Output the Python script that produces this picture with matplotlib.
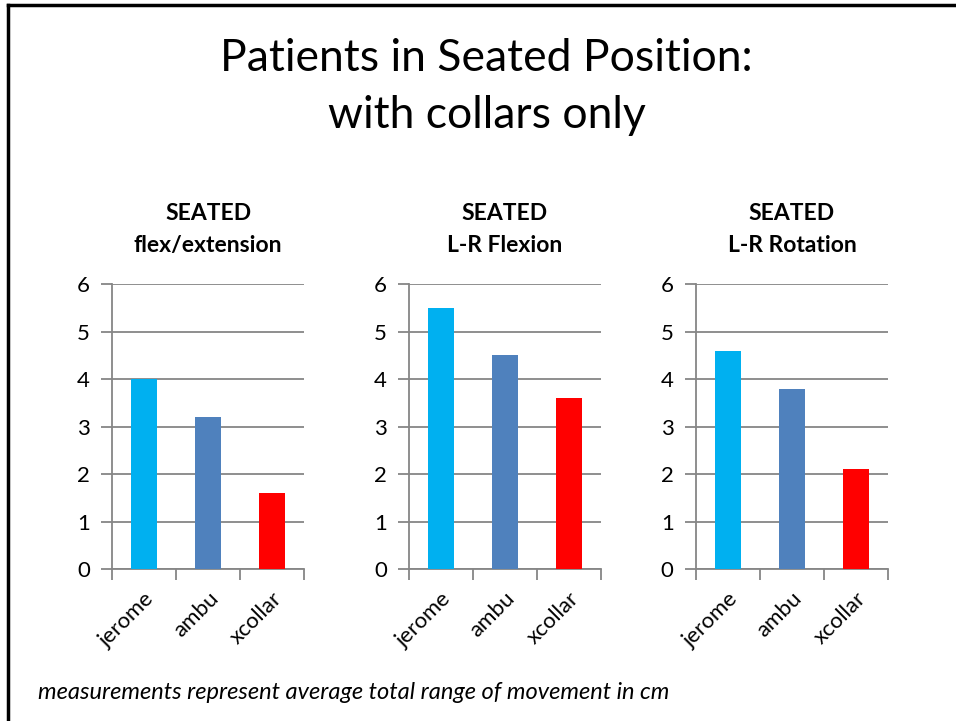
import matplotlib
matplotlib.use('Agg')
import matplotlib.pyplot as plt
from matplotlib.lines import Line2D
import numpy as np

plt.rcParams['font.family'] = ['Lato', 'DejaVu Sans']

# chart data
collars = ['jerome', 'ambu', 'xcollar']
panel_titles = ['SEATED\nflex/extension', 'SEATED\nL-R Flexion', 'SEATED\nL-R Rotation']
flex_extension = [4.0, 3.2, 1.6]
lr_flexion = [5.5, 4.5, 3.6]
lr_rotation = [4.6, 3.8, 2.1]
bar_colors = ['#00B0F0', '#4F81BD', '#FF0000']

fig = plt.figure(figsize=(9.56, 7.21), dpi=100)

# slide border (top and left only)
fig.add_artist(Line2D([0.008, 1.0], [0.993, 0.993], color='black', lw=2.5,
                      transform=fig.transFigure))
fig.add_artist(Line2D([0.008, 0.008], [0.0, 0.993], color='black', lw=2.5,
                      transform=fig.transFigure))

fig.text(0.509, 0.879, 'Patients in Seated Position:\nwith collars only',
         ha='center', va='center', fontsize=32, linespacing=1.48)

lefts = [0.1172, 0.4278, 0.728]
series = [flex_extension, lr_flexion, lr_rotation]
grid_col = '#868686'

for left, vals, title in zip(lefts, series, panel_titles):
    ax = fig.add_axes([left, 0.2108, 0.2008, 0.3953])
    x = np.arange(len(collars))
    ax.bar(x, vals, width=0.4, color=bar_colors, zorder=3)
    ax.set_xlim(-0.5, 2.5)
    ax.set_ylim(0, 6)
    ax.set_yticks(range(0, 7))
    ax.yaxis.grid(True, color=grid_col, lw=1.3, zorder=0)
    ax.set_axisbelow(True)
    for s in ['top', 'right']:
        ax.spines[s].set_visible(False)
    for s in ['left', 'bottom']:
        ax.spines[s].set_color(grid_col)
        ax.spines[s].set_linewidth(1.3)
    ax.tick_params(axis='y', length=8, width=1.3, color=grid_col,
                   labelsize=16, pad=8)
    ax.set_xticks(x)
    ax.set_xticklabels(collars, rotation=45, ha='right',
                       rotation_mode='anchor', fontsize=16)
    ax.tick_params(axis='x', which='major', length=0, pad=14)
    ax.set_xticks([-0.5, 0.5, 1.5, 2.5], minor=True)
    ax.tick_params(axis='x', which='minor', length=8, width=1.3, color=grid_col)
    ax.set_title(title, fontsize=16.5, fontweight='bold', pad=23, linespacing=1.65)

fig.text(0.04, 0.039, 'measurements represent average total range of movement in cm',
         ha='left', va='center', fontsize=17, style='italic')

fig.savefig('out.png', dpi=100)
